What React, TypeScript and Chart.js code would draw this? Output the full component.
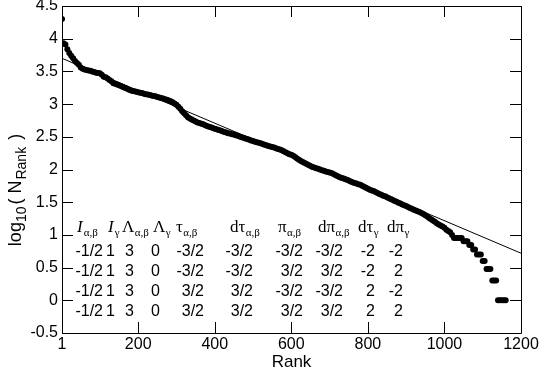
import React, { useEffect, useRef } from "react";
import { Chart, registerables } from "chart.js";

Chart.register(...registerables);

// ---- data ----
const ranks = [
  1,
  5, 10, 15, 20, 25, 30, 35, 40, 45, 50,
  55, 60, 65, 70, 75, 80, 85, 90, 95, 100,
  105, 110, 115, 120, 125, 130, 135, 140, 145, 150,
  155, 160, 165, 170, 175, 180, 185, 190, 195, 200,
  205, 210, 215, 220, 225, 230, 235, 240, 245, 250,
  255, 260, 265, 270, 275, 280, 285, 290, 295, 300,
  305, 310, 315, 320, 325, 330, 335, 340, 345, 350,
  355, 360, 365, 370, 375, 380, 385, 390, 395, 400,
  405, 410, 415, 420, 425, 430, 435, 440, 445, 450,
  455, 460, 465, 470, 475, 480, 485, 490, 495, 500,
  505, 510, 515, 520, 525, 530, 535, 540, 545, 550,
  555, 560, 565, 570, 575, 580, 585, 590, 595, 600,
  605, 610, 615, 620, 625, 630, 635, 640, 645, 650,
  655, 660, 665, 670, 675, 680, 685, 690, 695, 700,
  705, 710, 715, 720, 725, 730, 735, 740, 745, 750,
  755, 760, 765, 770, 775, 780, 785, 790, 795, 800,
  805, 810, 815, 820, 825, 830, 835, 840, 845, 850,
  855, 860, 865, 870, 875, 880, 885, 890, 895, 900,
  905, 910, 915, 920, 925, 930, 935, 940, 945, 950,
  955, 960, 965, 970, 975, 980, 985, 990, 995, 1000,
  1005, 1010, 1015, 1020, 1025, 1030, 1035, 1040, 1045, 1050,
  1055, 1060, 1065, 1070, 1075, 1080, 1085, 1090, 1095, 1100,
  1105, 1110, 1115, 1120, 1125, 1130, 1135, 1140, 1145, 1150,
  1155, 1160,
];

const logN = [
  4.3,
  3.93, 3.91, 3.84, 3.78, 3.74, 3.7, 3.66, 3.63, 3.6, 3.56,
  3.54, 3.53, 3.52, 3.515, 3.51, 3.5, 3.49, 3.48, 3.475, 3.47,
  3.45, 3.42, 3.41, 3.39, 3.37, 3.35, 3.32, 3.31, 3.3, 3.29,
  3.275, 3.26, 3.25, 3.24, 3.225, 3.21, 3.2, 3.195, 3.19, 3.18,
  3.175, 3.17, 3.16, 3.15, 3.145, 3.14, 3.13, 3.125, 3.12, 3.11,
  3.1, 3.095, 3.085, 3.075, 3.065, 3.055, 3.045, 3.03, 3.01, 2.99,
  2.96, 2.93, 2.89, 2.86, 2.83, 2.8, 2.78, 2.765, 2.75, 2.735,
  2.72, 2.71, 2.7, 2.69, 2.675, 2.665, 2.655, 2.645, 2.635, 2.625,
  2.615, 2.605, 2.595, 2.585, 2.575, 2.565, 2.555, 2.55, 2.54, 2.535,
  2.525, 2.515, 2.505, 2.495, 2.485, 2.475, 2.465, 2.455, 2.445, 2.435,
  2.425, 2.415, 2.41, 2.4, 2.39, 2.38, 2.37, 2.36, 2.35, 2.345,
  2.335, 2.325, 2.315, 2.305, 2.295, 2.28, 2.265, 2.25, 2.235, 2.225,
  2.21, 2.19, 2.17, 2.15, 2.13, 2.115, 2.1, 2.085, 2.07, 2.055,
  2.04, 2.03, 2.02, 2.01, 2.0, 1.99, 1.98, 1.97, 1.96, 1.955,
  1.945, 1.93, 1.915, 1.9, 1.885, 1.875, 1.865, 1.855, 1.845, 1.83,
  1.815, 1.805, 1.795, 1.785, 1.775, 1.765, 1.75, 1.735, 1.72, 1.705,
  1.69, 1.68, 1.67, 1.655, 1.64, 1.625, 1.615, 1.6, 1.59, 1.575,
  1.56, 1.55, 1.535, 1.52, 1.505, 1.49, 1.48, 1.465, 1.455, 1.44,
  1.425, 1.41, 1.4, 1.385, 1.375, 1.36, 1.35, 1.335, 1.32, 1.3,
  1.28, 1.26, 1.24, 1.22, 1.2, 1.18, 1.16, 1.145, 1.13, 1.11,
  1.08, 1.06, 1.04, 1.0, 0.954, 0.954, 0.954, 0.954, 0.954, 0.903,
  0.903, 0.903, 0.845, 0.845, 0.778, 0.778, 0.699, 0.699, 0.699, 0.602,
  0.602, 0.477, 0.477, 0.477, 0.301, 0.301, 0.301, 0, 0, 0,
  0, 0,
];

const fitRanks = [1, 1200];
const fitLogN = [3.7, 0.72];

const xTickValues = [1, 200, 400, 600, 800, 1000, 1200];
const yTickValues = [-0.5, 0, 0.5, 1, 1.5, 2, 2.5, 3, 3.5, 4, 4.5];

const xTitle = "Rank";

// table: header symbols (main glyph, subscript, italic)
const headerMain = ["I", "I", "Λ", "Λ", "τ", "dτ", "π", "dπ", "dτ", "dπ"];
const headerSub = ["α,β", "γ", "α,β", "γ", "α,β", "α,β", "α,β", "α,β", "γ", "γ"];
const headerItalic = [true, true, false, false, false, false, false, false, false, false];
const tableRow1 = ["-1/2", "1", "3", "0", "-3/2", "-3/2", "-3/2", "-3/2", "-2", "-2"];
const tableRow2 = ["-1/2", "1", "3", "0", "-3/2", "-3/2", "3/2", "3/2", "-2", "2"];
const tableRow3 = ["-1/2", "1", "3", "0", "3/2", "3/2", "-3/2", "-3/2", "2", "-2"];
const tableRow4 = ["-1/2", "1", "3", "0", "3/2", "3/2", "3/2", "3/2", "2", "2"];

// ---- layout / style ----
const SANS = "'Liberation Sans', Arial, Helvetica, sans-serif";
const SERIF = "'Liberation Serif', 'Times New Roman', serif";
const headerX = [77, 108, 122, 153, 176, 230, 278, 318, 358, 387];
const valueRight = [103, 115, 134, 160, 204, 253, 303, 343, 375, 403];
const headerBaseline = 232;
const rowBaselines = [256, 276, 296, 316];
const TICK_LEN = 11;

const framePlugin = {
  id: "frame",
  afterDraw(chart: any) {
    const { ctx, chartArea } = chart;
    const { left, right, top, bottom } = chartArea;
    const xs = chart.scales.x;
    const ys = chart.scales.y;
    ctx.save();
    ctx.strokeStyle = "#000";
    ctx.lineWidth = 1;
    ctx.beginPath();
    ctx.rect(Math.round(left) + 0.5, Math.round(top) + 0.5, Math.round(right - left), Math.round(bottom - top));
    ctx.stroke();
    ctx.beginPath();
    xs.ticks.forEach((t: any) => {
      const px = Math.round(xs.getPixelForValue(t.value)) + 0.5;
      ctx.moveTo(px, bottom);
      ctx.lineTo(px, bottom - TICK_LEN);
      ctx.moveTo(px, top);
      ctx.lineTo(px, top + TICK_LEN);
    });
    ys.ticks.forEach((t: any) => {
      const py = Math.round(ys.getPixelForValue(t.value)) + 0.5;
      ctx.moveTo(left, py);
      ctx.lineTo(left + TICK_LEN, py);
      ctx.moveTo(right, py);
      ctx.lineTo(right - TICK_LEN, py);
    });
    ctx.stroke();
    ctx.restore();
  },
};

const tablePlugin = {
  id: "table",
  afterDraw(chart: any) {
    const ctx = chart.ctx;
    ctx.save();
    ctx.fillStyle = "#000";
    ctx.textBaseline = "alphabetic";
    headerMain.forEach((m, i) => {
      let x = headerX[i];
      ctx.textAlign = "left";
      ctx.font = `${headerItalic[i] ? "italic " : ""}17px ${SERIF}`;
      ctx.fillText(m, x, headerBaseline);
      x += ctx.measureText(m).width + (headerItalic[i] ? 1 : 0.5);
      ctx.font = `11px ${SERIF}`;
      ctx.fillText(headerSub[i], x, headerBaseline + 4);
    });
    ctx.font = `16px ${SANS}`;
    ctx.textAlign = "right";
    [tableRow1, tableRow2, tableRow3, tableRow4].forEach((row, r) => {
      row.forEach((v, i) => {
        ctx.fillText(v, valueRight[i], rowBaselines[r]);
      });
    });
    ctx.restore();
  },
};

const yTitlePlugin = {
  id: "ytitle",
  afterDraw(chart: any) {
    const ctx = chart.ctx;
    const parts = [
      { t: "log", size: 18, dy: 0, gap: 0 },
      { t: "10", size: 14, dy: 5, gap: 2 },
      { t: "( N", size: 18, dy: 0, gap: 1 },
      { t: "Rank", size: 14, dy: 5, gap: 2 },
      { t: " )", size: 18, dy: 0, gap: 0 },
    ];
    ctx.save();
    let total = 0;
    parts.forEach((p) => {
      ctx.font = `${p.size}px ${SANS}`;
      total += ctx.measureText(p.t).width + p.gap;
    });
    const cx = 21;
    const cy = 190;
    ctx.translate(cx, cy);
    ctx.rotate(-Math.PI / 2);
    ctx.fillStyle = "#000";
    ctx.textAlign = "left";
    ctx.textBaseline = "alphabetic";
    let x = -total / 2;
    parts.forEach((p) => {
      ctx.font = `${p.size}px ${SANS}`;
      ctx.fillText(p.t, x, p.dy);
      x += ctx.measureText(p.t).width + p.gap;
    });
    ctx.restore();
  },
};

export default function App() {
  const ref = useRef<HTMLCanvasElement>(null);
  useEffect(() => {
    const canvas = ref.current;
    if (!canvas) return;
    const points = ranks.map((r, i) => ({ x: r, y: logN[i] }));
    const fit = fitRanks.map((r, i) => ({ x: r, y: fitLogN[i] }));
    const chart = new Chart(canvas, {
      type: "scatter",
      data: {
        datasets: [
          {
            data: fit,
            showLine: true,
            borderColor: "#000",
            borderWidth: 1,
            pointRadius: 0,
            fill: false,
            order: 0,
          } as any,
          {
            data: points,
            backgroundColor: "#000",
            borderWidth: 0,
            pointRadius: 3,
            pointHoverRadius: 3,
            order: 1,
          } as any,
        ],
      },
      options: {
        responsive: false,
        animation: false,
        devicePixelRatio: 1,
        layout: { padding: { top: 6, right: 18, left: 0, bottom: 0 } },
        plugins: { legend: { display: false }, tooltip: { enabled: false } },
        scales: {
          x: {
            type: "linear",
            min: 1,
            max: 1200,
            grid: { display: false, drawTicks: false },
            border: { display: false },
            afterBuildTicks: (s: any) => {
              s.ticks = xTickValues.map((v) => ({ value: v }));
            },
            ticks: {
              font: { family: SANS, size: 16 },
              color: "#000",
              padding: 2,
              maxRotation: 0,
              autoSkip: false,
              callback: (v: any) => String(v),
            },
            title: {
              display: true,
              text: xTitle,
              font: { family: SANS, size: 17 },
              color: "#000",
              padding: { top: 0, bottom: 0 },
            },
            afterFit: (s: any) => {
              s.height = 40;
              s.paddingLeft = 0;
              s.paddingRight = 0;
            },
          },
          y: {
            type: "linear",
            min: -0.5,
            max: 4.5,
            grid: { display: false, drawTicks: false },
            border: { display: false },
            afterBuildTicks: (s: any) => {
              s.ticks = yTickValues.map((v) => ({ value: v }));
            },
            ticks: {
              font: { family: SANS, size: 16 },
              color: "#000",
              padding: 4,
              autoSkip: false,
              callback: (v: any) => String(v),
            },
            afterFit: (s: any) => {
              s.width = 62;
              s.paddingTop = 0;
              s.paddingBottom = 0;
            },
          },
        },
      } as any,
      plugins: [framePlugin, tablePlugin, yTitlePlugin],
    });
    return () => chart.destroy();
  }, []);
  return (
    <div style={{ position: "fixed", left: 0, top: 0, width: 539, height: 373, background: "#fff" }}>
      <canvas ref={ref} width={539} height={373} style={{ display: "block" }} />
    </div>
  );
}
